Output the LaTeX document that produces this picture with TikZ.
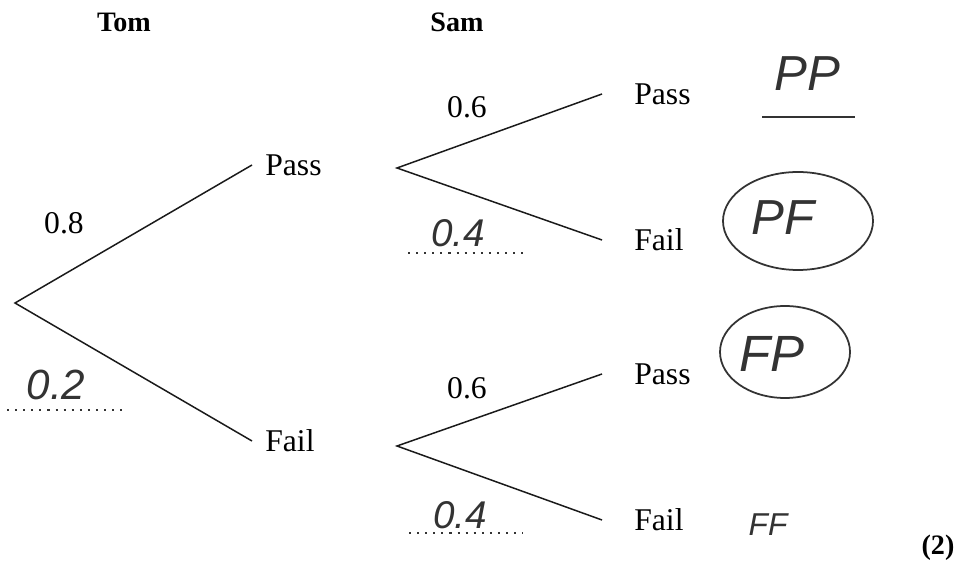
\documentclass[tikz,border=0pt]{standalone}
\usepackage{fontspec}
\setmainfont{Liberation Serif}
\newfontfamily\handfont{Liberation Sans}
\usepackage{tikz}
\usetikzlibrary{calc}
\definecolor{tinte}{HTML}{1A1A1A}
\definecolor{blei}{HTML}{333333}
\newcommand{\hw}[2]{{\fontsize{#1}{#1}\handfont\itshape #2}}
\tikzset{
  zweig/.style={tinte,line width=0.85pt},
  lab/.style={inner sep=0pt,font=\fontsize{18}{20}\selectfont},
  kopf/.style={inner sep=0pt,font=\fontsize{16}{18}\selectfont\bfseries},
  out1/.style={lab,anchor=west,inner xsep=0.26cm},
  out2/.style={lab,anchor=west,inner xsep=0.64cm},
  hand/.style={inner sep=0pt,blei},
  punkte/.style={blei,line width=1.5pt,dash pattern=on 1.2pt off 3.4pt},
  ring/.style={blei,line width=1pt},
}

\begin{document}
\begin{tikzpicture}
  \useasboundingbox (0,0) rectangle (19.32,11.32);
  % headings
  \node[kopf] (tom) at (2.48,10.88) {Tom};
  \node[kopf] (sam) at (9.14,10.88) {Sam};
  % tree
  \coordinate (root) at (0.30,5.26);
  \node[out1] (tp) at (5.04,8.02) {Pass};
  \node[out1] (tf) at (5.04,2.50) {Fail};
  \coordinate (j1) at (7.94,7.96);
  \coordinate (j2) at (7.94,2.40);
  \node[out2] (pp) at (12.04,9.44) {Pass};
  \node[out2] (pf) at (12.04,6.52) {Fail};
  \node[out2] (fp) at (12.04,3.84) {Pass};
  \node[out2] (ff) at (12.04,0.92) {Fail};
  \draw[zweig] (tp.west) -- (root) -- (tf.west);
  \draw[zweig] (pp.west) -- (j1) -- (pf.west);
  \draw[zweig] (fp.west) -- (j2) -- (ff.west);
  % printed probabilities
  \node[lab] (p08) at (1.28,6.85) {0.8};
  \node[lab] (p06a) at (9.34,9.17) {0.6};
  \node[lab] (p06b) at (9.34,3.56) {0.6};
  % handwritten answers
  \node[hand] (p02) at (1.12,3.62) {\hw{24}{0.2}};
  \draw[punkte] (0.14,3.12) -- (2.44,3.12);
  \node[hand] (p04a) at (9.16,6.66) {\hw{22}{0.4}};
  \draw[punkte] (8.16,6.26) -- (10.46,6.26);
  \node[hand] (p04b) at (9.20,1.02) {\hw{22}{0.4}};
  \draw[punkte] (8.18,0.66) -- (10.46,0.66);
  \node[hand] (opp) at (16.14,9.84) {\hw{28}{PP}};
  \draw[ring] (15.24,8.98) -- (17.10,8.98);
  \node[hand] (opf) at (15.66,6.96) {\hw{28}{PF}};
  \draw[ring] (15.96,6.90) ellipse (1.50 and 0.98);
  \node[hand] (ofp) at (15.44,4.24) {\hw{29}{FP}};
  \draw[ring] (15.70,4.28) ellipse (1.30 and 0.92);
  \node[hand] (off) at (15.36,0.82) {\hw{18}{FF}};
  % marks
  \node[kopf] (mk) at (18.76,0.36) {(2)};
\end{tikzpicture}
\end{document}
